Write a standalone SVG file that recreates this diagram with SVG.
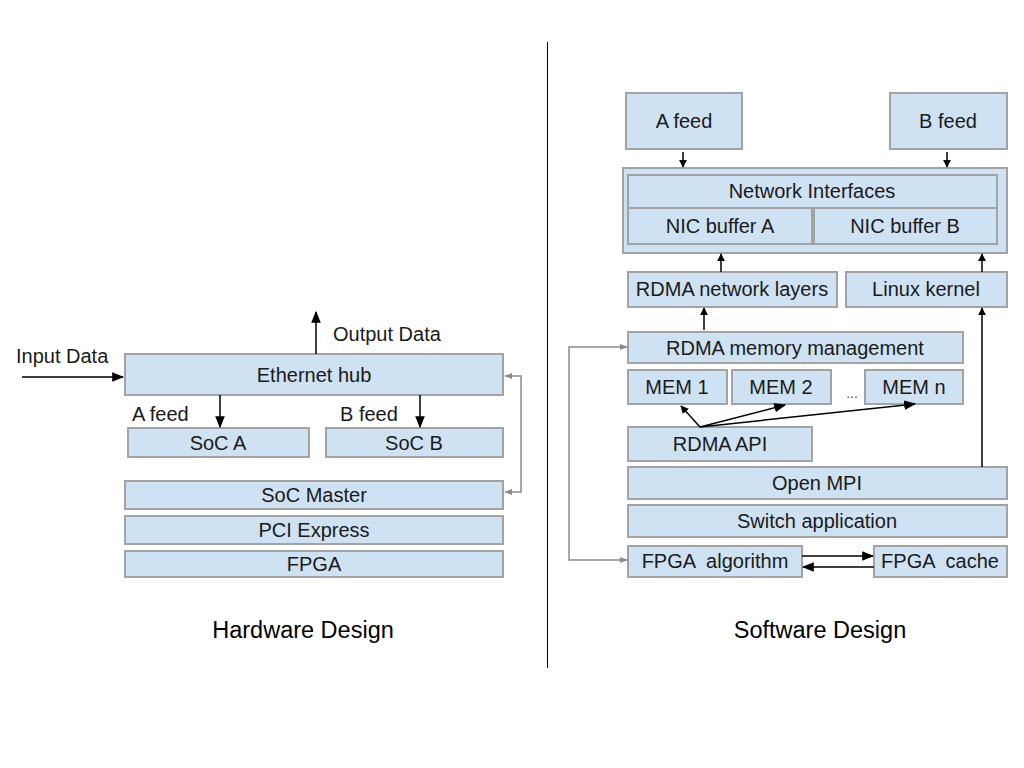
<svg xmlns="http://www.w3.org/2000/svg" width="1024" height="768" viewBox="0 0 1024 768">
<defs>
<style>
.b{fill:#cfe2f3;stroke:#a3a3a3;stroke-width:2}
.t{font-family:"Liberation Sans",Arial,sans-serif;font-size:20px;fill:#1a1a1a;text-anchor:middle}
.l{font-family:"Liberation Sans",Arial,sans-serif;font-size:20px;fill:#1a1a1a}
.c{font-family:"Liberation Sans",Arial,sans-serif;font-size:23.5px;fill:#000;text-anchor:middle}
.k{stroke:#000;stroke-width:1.5;fill:none}
.g{stroke:#8c8c8c;stroke-width:1.5;fill:none}
</style>
<marker id="ak" viewBox="0 0 10 10" refX="9" refY="5" markerWidth="8" markerHeight="8" markerUnits="userSpaceOnUse" orient="auto-start-reverse"><path d="M0,0L10,5L0,10z" fill="#000"/></marker>
<marker id="ak2" viewBox="0 0 10 10" refX="9" refY="5" markerWidth="12" markerHeight="12" markerUnits="userSpaceOnUse" orient="auto-start-reverse"><path d="M0,1L10,5L0,9z" fill="#000"/></marker>
<marker id="ag" viewBox="0 0 10 10" refX="9" refY="5" markerWidth="8" markerHeight="8" markerUnits="userSpaceOnUse" orient="auto-start-reverse"><path d="M0,1L10,5L0,9z" fill="#8c8c8c"/></marker>
</defs>
<rect width="1024" height="768" fill="#fff"/>
<line x1="547.5" y1="42" x2="547.5" y2="668" stroke="#000" stroke-width="1"/>

<g id="hardware">
<g id="eth"><rect class="b" x="125" y="354" width="378" height="41"/><text class="t" x="314" y="382">Ethernet hub</text></g>
<g id="socA"><rect class="b" x="128" y="428" width="181" height="29"/><text class="t" x="218" y="450">SoC A</text></g>
<g id="socB"><rect class="b" x="326" y="428" width="177" height="29"/><text class="t" x="414" y="450">SoC B</text></g>
<g id="socM"><rect class="b" x="125" y="481" width="378" height="28"/><text class="t" x="314" y="502">SoC Master</text></g>
<g id="pci"><rect class="b" x="125" y="516" width="378" height="28"/><text class="t" x="314" y="537">PCI Express</text></g>
<g id="fpga"><rect class="b" x="125" y="551" width="378" height="26"/><text class="t" x="314" y="571">FPGA</text></g>
<text class="l" x="16" y="363">Input Data</text>
<text class="l" x="333" y="341">Output Data</text>
<text class="l" x="132" y="421">A feed</text>
<text class="l" x="340" y="421">B feed</text>
<text class="c" x="303" y="638">Hardware Design</text>
</g>

<g id="software">
<g id="afeed"><rect class="b" x="626" y="93" width="116" height="56"/><text class="t" x="684" y="128">A feed</text></g>
<g id="bfeed"><rect class="b" x="890" y="93" width="117" height="56"/><text class="t" x="948" y="128">B feed</text></g>
<g id="netc"><rect class="b" x="623" y="168" width="384" height="85"/>
<g id="ni"><rect class="b" x="628" y="175" width="369" height="33"/><text class="t" x="812" y="198">Network Interfaces</text></g>
<g id="nica"><rect class="b" x="628" y="208" width="184" height="36"/><text class="t" x="720" y="233">NIC buffer A</text></g>
<g id="nicb"><rect class="b" x="814" y="208" width="183" height="36"/><text class="t" x="905" y="233">NIC buffer B</text></g>
</g>
<g id="rnl"><rect class="b" x="628" y="272" width="209" height="35"/><text class="t" x="732" y="296">RDMA network layers</text></g>
<g id="lk"><rect class="b" x="846" y="272" width="161" height="35"/><text class="t" x="926" y="296">Linux kernel</text></g>
<g id="rmm"><rect class="b" x="628" y="332" width="335" height="31"/><text class="t" x="795" y="355">RDMA memory management</text></g>
<g id="mem1"><rect class="b" x="628" y="370" width="99" height="34"/><text class="t" x="677" y="394">MEM 1</text></g>
<g id="mem2"><rect class="b" x="732" y="370" width="99" height="34"/><text class="t" x="781" y="394">MEM 2</text></g>
<text class="t" x="852" y="398" style="font-size:14px;fill:#555">...</text>
<g id="memn"><rect class="b" x="865" y="370" width="98" height="34"/><text class="t" x="914" y="394">MEM n</text></g>
<g id="api"><rect class="b" x="628" y="427" width="184" height="34"/><text class="t" x="720" y="451">RDMA API</text></g>
<g id="mpi"><rect class="b" x="628" y="467" width="379" height="32"/><text class="t" x="817" y="490">Open MPI</text></g>
<g id="sw"><rect class="b" x="628" y="505" width="379" height="32"/><text class="t" x="817" y="528">Switch application</text></g>
<g id="falg"><rect class="b" x="628" y="546" width="174" height="31"/><text class="t" x="715" y="568" xml:space="preserve">FPGA  algorithm</text></g>
<g id="fcache"><rect class="b" x="874" y="546" width="133" height="31"/><text class="t" x="940" y="568" xml:space="preserve">FPGA  cache</text></g>
<text class="c" x="820" y="638">Software Design</text>
</g>

<g id="connectors">
<line class="k" x1="22" y1="377" x2="123" y2="377" marker-end="url(#ak2)"/>
<line class="k" x1="316" y1="354" x2="316" y2="312" marker-end="url(#ak2)"/>
<line class="k" x1="220" y1="395" x2="220" y2="427" marker-end="url(#ak2)"/>
<line class="k" x1="420" y1="395" x2="420" y2="427" marker-end="url(#ak2)"/>
<path class="g" d="M505,492H521V376H505" marker-start="url(#ag)" marker-end="url(#ag)"/>
<line class="k" x1="683" y1="152" x2="683" y2="167" marker-end="url(#ak)"/>
<line class="k" x1="947" y1="152" x2="947" y2="167" marker-end="url(#ak)"/>
<line class="k" x1="721" y1="272" x2="721" y2="254" marker-end="url(#ak)"/>
<line class="k" x1="982" y1="272" x2="982" y2="254" marker-end="url(#ak)"/>
<line class="k" x1="704" y1="330" x2="704" y2="308" marker-end="url(#ak)"/>
<line class="k" x1="982" y1="467" x2="982" y2="308" marker-end="url(#ak)"/>
<line class="k" x1="700" y1="427" x2="681" y2="406" marker-end="url(#ak)"/>
<line class="k" x1="700" y1="427" x2="785" y2="405" marker-end="url(#ak2)"/>
<line class="k" x1="700" y1="427" x2="915" y2="404" marker-end="url(#ak2)"/>
<line class="k" x1="802" y1="556" x2="873" y2="556" marker-end="url(#ak2)"/>
<line class="k" x1="874" y1="567" x2="803" y2="567" marker-end="url(#ak2)"/>
<path class="g" d="M627,347H569V560H627" marker-start="url(#ag)" marker-end="url(#ag)"/>
</g>
</svg>
